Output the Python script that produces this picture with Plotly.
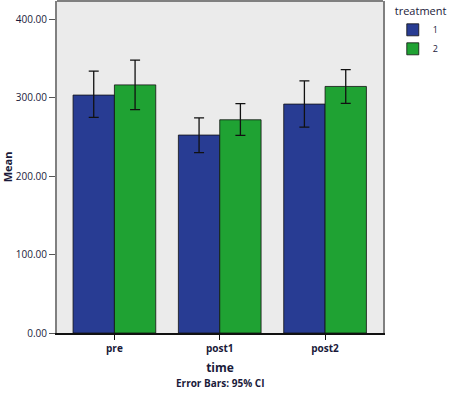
import plotly.graph_objects as go

categories = ["pre", "post1", "post2"]
treatments = ["1", "2"]
mean_t1 = [303.5, 252.5, 292.0]
mean_t2 = [316.5, 272.0, 314.5]
ci_upper_t1 = [334.0, 274.5, 321.5]
ci_lower_t1 = [275.0, 230.0, 262.5]
ci_upper_t2 = [348.0, 292.5, 336.0]
ci_lower_t2 = [285.0, 252.0, 293.0]
y_ticks = [0, 100, 200, 300, 400]
y_tick_labels = ["0.00", "100.00", "200.00", "300.00", "400.00"]

colors = ["#283C93", "#1FA233"]
FONT = "Open Sans"
TXT = "#1a1a3a"

fig = go.Figure()
for name, means, up, lo, col in [
    (treatments[0], mean_t1, ci_upper_t1, ci_lower_t1, colors[0]),
    (treatments[1], mean_t2, ci_upper_t2, ci_lower_t2, colors[1]),
]:
    fig.add_trace(go.Bar(
        x=categories, y=means, name=name,
        marker=dict(color=col, line=dict(color="#111111", width=0.8)),
        error_y=dict(type="data", symmetric=False,
                     array=[u - m for u, m in zip(up, means)],
                     arrayminus=[m - l for m, l in zip(means, lo)],
                     color="#111111", thickness=1.3, width=5),
    ))

fig.update_layout(
    width=450, height=395,
    margin=dict(l=57, r=62, t=1, b=62),
    paper_bgcolor="white", plot_bgcolor="#EBEBEB",
    barmode="group", bargap=0.215, bargroupgap=0,
    font=dict(family=FONT, size=10, color=TXT),
    showlegend=True,
    legend=dict(x=1.03, xanchor="left", y=1.0, yanchor="top",
                title=dict(text="treatment", font=dict(family=FONT, size=11, color=TXT)),
                font=dict(size=9, color=TXT), tracegroupgap=0,
                itemwidth=30, bgcolor="rgba(0,0,0,0)", borderwidth=0),
    xaxis=dict(range=[-0.545, 2.55], showgrid=False, showline=True,
               linecolor="#111111", linewidth=1.5, ticks="outside",
               ticklen=5, tickcolor="#111111",
               tickfont=dict(family=FONT, size=10, color=TXT, weight="bold"),
               title=dict(text="time", standoff=10,
                          font=dict(family=FONT, size=12, color=TXT, weight="bold"))),
    yaxis=dict(range=[0, 423.5], tickvals=y_ticks, ticktext=y_tick_labels,
               showgrid=False, showline=True, linecolor="#808080", linewidth=2,
               mirror=True, ticks="outside", ticklen=6, tickcolor="#555555",
               zeroline=False,
               tickfont=dict(family=FONT, size=10, color=TXT),
               title=dict(text="Mean", standoff=6,
                          font=dict(family=FONT, size=11, color=TXT, weight="bold"))),
    shapes=[dict(type="line", xref="paper", yref="paper", x0=0, x1=1, y0=1, y1=1,
                 line=dict(color="#808080", width=2))],
    annotations=[
        dict(text="Error Bars: 95% CI", xref="paper", yref="paper", x=0.5, y=-0.15,
             xanchor="center", yanchor="middle", showarrow=False,
             font=dict(family=FONT, size=10, color=TXT, weight="bold")),
    ],
)

fig.write_html("out.html", config={"displayModeBar": False},
               post_script="document.body.style.margin='0';document.body.style.padding='0';")
